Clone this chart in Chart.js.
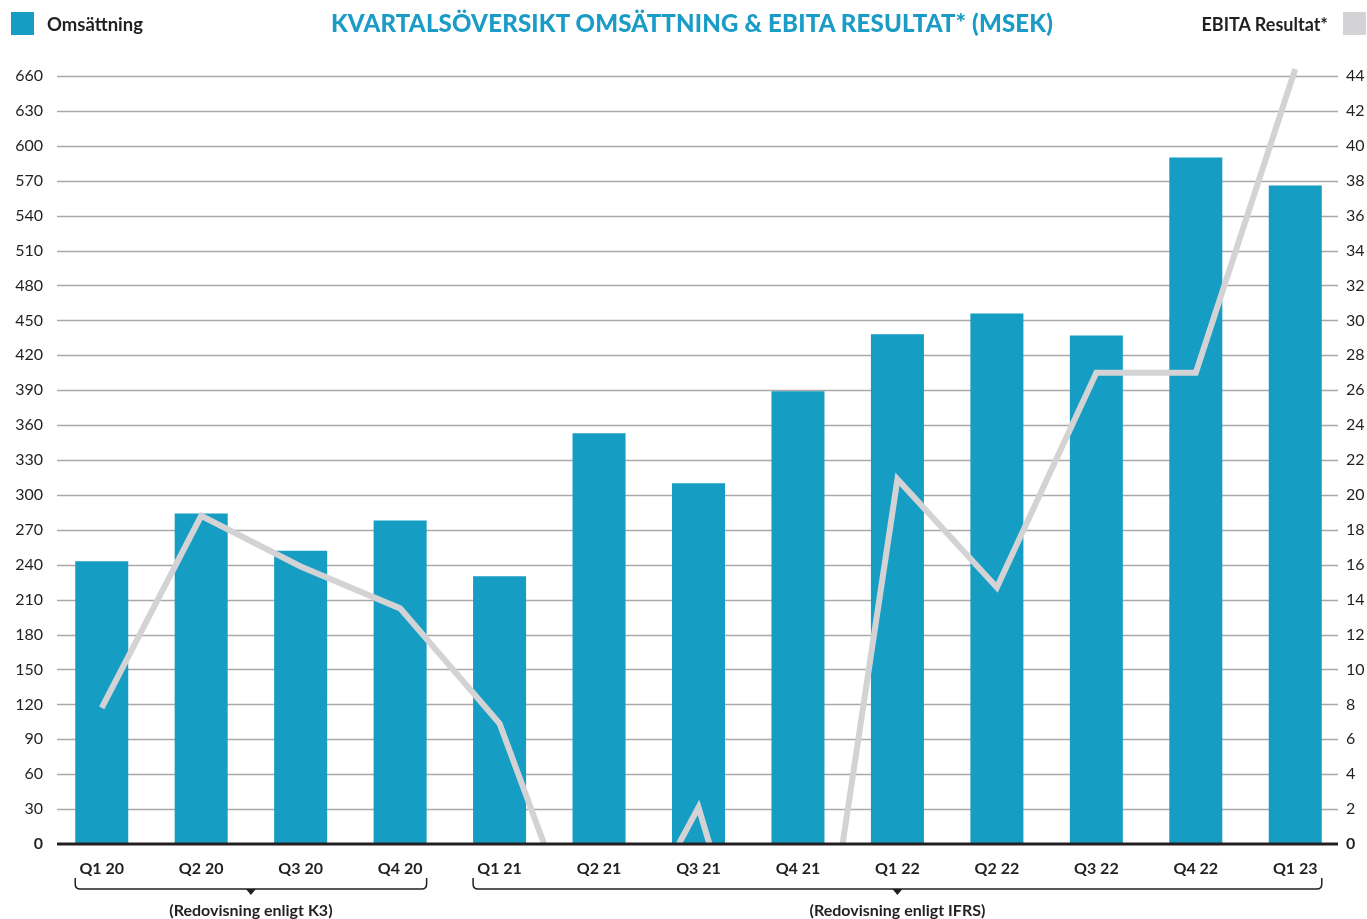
<!DOCTYPE html>
<html>
<head>
<meta charset="utf-8">
<script src="https://cdn.jsdelivr.net/npm/chart.js@4/dist/chart.umd.min.js"></script>
<style>
    body { margin: 0; background: #fff; }
    #wrap { position: relative; width: 1367px; height: 919px; overflow: hidden; font-family: Lato, sans-serif; }
    #chart { position: absolute; left: 0; top: 0; }
    .title { position: absolute; top: 8px; left: 0; width: 1384px; text-align: center; color: #1a9cc6;
             font-size: 24px; font-weight: 900; letter-spacing: 0.2px; }
    .legend { position: absolute; top: 12px; height: 23px; display: flex; align-items: center;
              font-size: 18.5px; font-weight: 700; color: #231f20; }
    .box { width: 23px; height: 23px; }
</style>
</head>
<body>
<div id="wrap">
    <canvas id="chart" width="1367" height="919"></canvas>
    <div class="title">KVARTALSÖVERSIKT OMSÄTTNING &amp; EBITA RESULTAT* (MSEK)</div>
    <div class="legend" style="left: 11px;"><div class="box" style="background: #169dc4; margin-right: 13px;"></div>Omsättning</div>
    <div class="legend" style="right: 1px; font-size: 18px;">EBITA Resultat*<div class="box" style="background: #d3d3d5; margin-left: 15px;"></div></div>
</div>
<script>
const quarters = ['Q1 20', 'Q2 20', 'Q3 20', 'Q4 20', 'Q1 21', 'Q2 21', 'Q3 21', 'Q4 21', 'Q1 22', 'Q2 22', 'Q3 22', 'Q4 22', 'Q1 23'];
const omsattning = [243, 284, 252, 278, 230, 353, 310, 389, 438, 456, 437, 590, 566];
const ebita = [7.8, 18.8, 15.9, 13.5, 6.9, -8.5, 2.1, -17, 20.9, 14.7, 27.0, 27.0, 44.4];

// groups shown under the x axis: first and last category index
const groups = [
    { label: '(Redovisning enligt K3)', from: 0, to: 3 },
    { label: '(Redovisning enligt IFRS)', from: 4, to: 12 }
];

const BAR_PCT = 0.533;

// gridlines are inset a bit from the chart area, like the original
const gridPlugin = {
    id: 'insetGrid',
    beforeDatasetsDraw(chart) {
        const ctx = chart.ctx;
        const area = chart.chartArea;
        const y = chart.scales.y;
        ctx.save();
        ctx.strokeStyle = '#a9a9a9';
        ctx.lineWidth = 1.5;
        y.ticks.forEach(t => {
            if (t.value === 0) return;
            const py = Math.round(y.getPixelForValue(t.value)) + 0.5;
            ctx.beginPath();
            ctx.moveTo(area.left + 5, py);
            ctx.lineTo(area.right - 7, py);
            ctx.stroke();
        });
        ctx.restore();
    },
    afterDatasetsDraw(chart) {
        const ctx = chart.ctx;
        const area = chart.chartArea;
        const py = chart.scales.y.getPixelForValue(0);
        ctx.save();
        ctx.strokeStyle = '#231f20';
        ctx.lineWidth = 3;
        ctx.beginPath();
        ctx.moveTo(area.left + 5, py);
        ctx.lineTo(area.right - 7, py);
        ctx.stroke();
        ctx.restore();
    }
};

const bracketPlugin = {
    id: 'brackets',
    afterDraw(chart) {
        const ctx = chart.ctx;
        const x = chart.scales.x;
        const half = (x.getPixelForValue(1) - x.getPixelForValue(0)) * BAR_PCT / 2;
        const top = 878, line = 889, r = 5;
        ctx.save();
        ctx.strokeStyle = '#231f20';
        ctx.fillStyle = '#231f20';
        ctx.lineWidth = 1.5;
        groups.forEach(g => {
            const x0 = x.getPixelForValue(g.from) - half;
            const x1 = x.getPixelForValue(g.to) + half;
            const mid = (x0 + x1) / 2;
            ctx.beginPath();
            ctx.moveTo(x0, top);
            ctx.lineTo(x0, line - r);
            ctx.quadraticCurveTo(x0, line, x0 + r, line);
            ctx.lineTo(x1 - r, line);
            ctx.quadraticCurveTo(x1, line, x1, line - r);
            ctx.lineTo(x1, top);
            ctx.stroke();
            ctx.beginPath();
            ctx.moveTo(mid - 5, line);
            ctx.lineTo(mid + 5, line);
            ctx.lineTo(mid, line + 6);
            ctx.closePath();
            ctx.fill();
            ctx.font = 'bold 16px Lato';
            ctx.textAlign = 'center';
            ctx.textBaseline = 'alphabetic';
            ctx.fillText(g.label, mid, 916);
        });
        ctx.restore();
    }
};

function tickFont(c) {
    return { family: 'Lato', size: 16, weight: c.tick && c.tick.value === 0 ? 'bold' : 'normal' };
}

new Chart(document.getElementById('chart').getContext('2d'), {
    data: {
        labels: quarters,
        datasets: [{
            type: 'line',
            label: 'EBITA Resultat*',
            data: ebita,
            yAxisID: 'y1',
            borderColor: '#d3d3d5',
            borderWidth: 6,
            pointRadius: 0,
            tension: 0,
            fill: false,
            order: 0,
            clip: { left: false, top: false, right: false, bottom: 0 }
        }, {
            type: 'bar',
            label: 'Omsättning',
            data: omsattning,
            yAxisID: 'y',
            backgroundColor: '#169dc4',
            categoryPercentage: 1,
            barPercentage: BAR_PCT,
            order: 1
        }]
    },
    options: {
        responsive: false,
        animation: false,
        devicePixelRatio: 1,
        layout: { padding: { top: 76, left: 0, right: 0, bottom: 0 } },
        plugins: {
            legend: { display: false },
            tooltip: { enabled: false }
        },
        scales: {
            x: {
                offset: true,
                grid: { display: false, drawTicks: false },
                border: { display: false },
                ticks: { color: '#231f20', padding: 15, font: { family: 'Lato', size: 16, weight: 'bold' } },
                afterFit(s) { s.height = 75; }
            },
            y: {
                position: 'left',
                min: 0,
                max: 660,
                grid: { display: false, drawTicks: false },
                border: { display: false },
                ticks: { stepSize: 30, color: '#231f20', padding: 9, font: tickFont },
                afterFit(s) { s.width = 52; }
            },
            y1: {
                position: 'right',
                min: 0,
                max: 44,
                grid: { display: false, drawTicks: false },
                border: { display: false },
                ticks: { stepSize: 2, color: '#231f20', padding: 1, font: tickFont },
                afterFit(s) { s.width = 22; }
            }
        }
    },
    plugins: [gridPlugin, bracketPlugin]
});
</script>
</body>
</html>
